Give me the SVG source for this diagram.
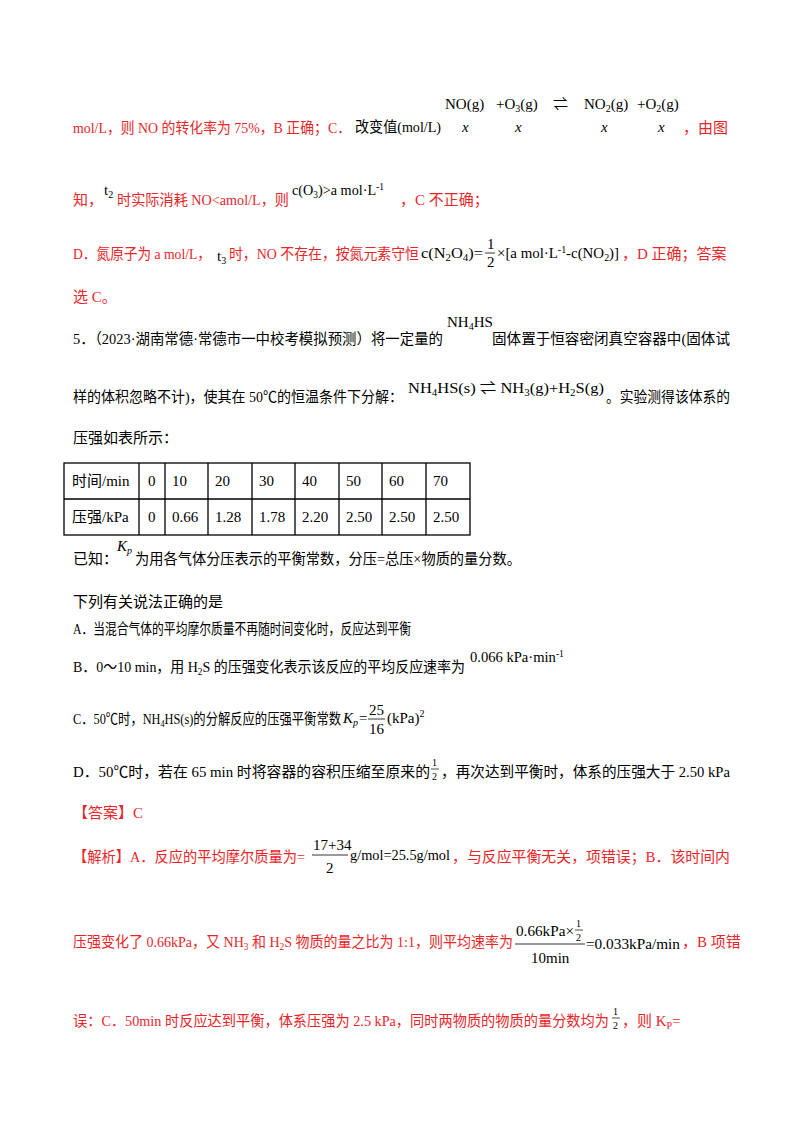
<svg xmlns="http://www.w3.org/2000/svg" width="800" height="1132" viewBox="0 0 800 1132">
<style>
text{font-family:"Liberation Serif","Noto Sans CJK SC",serif;font-size:15px;fill:#000}
.r{fill:#e8262a}
.s{font-size:15px}
.sub{font-size:10px}
.i{font-style:italic}
line,rect{stroke:#000;stroke-width:1.3;fill:none}
</style>
<rect width="800" height="1132" fill="#fff" style="stroke:none"/>
<!-- line 1 -->
<text x="445" y="109" class="s">NO(g)</text>
<text x="496" y="109" class="s">+O<tspan class="sub" dy="3">3</tspan><tspan dy="-3">(g)</tspan></text>
<text x="553" y="109" class="s">⇌</text>
<text x="584" y="109" class="s">NO<tspan class="sub" dy="3">2</tspan><tspan dy="-3">(g)</tspan></text>
<text x="637" y="109" class="s">+O<tspan class="sub" dy="3">2</tspan><tspan dy="-3">(g)</tspan></text>
<text x="73" y="133" class="r" textLength="278" lengthAdjust="spacingAndGlyphs">mol/L，则 NO 的转化率为 75%，B 正确；C．</text>
<text x="355" y="132" class="s" textLength="86" lengthAdjust="spacingAndGlyphs">改变值(mol/L)</text>
<text x="462" y="132" class="s i">x</text>
<text x="515" y="132" class="s i">x</text>
<text x="601" y="132" class="s i">x</text>
<text x="658" y="132" class="s i">x</text>
<text x="683" y="133" class="r">，由图</text>
<!-- line 2 -->
<text x="73" y="205" class="r">知，</text>
<text x="104" y="195" class="s">t<tspan class="sub" dy="3">2</tspan></text>
<text x="117" y="205" class="r" textLength="172" lengthAdjust="spacingAndGlyphs">时实际消耗 NO&lt;amol/L，则</text>
<text x="292" y="195" class="s" textLength="92" lengthAdjust="spacingAndGlyphs">c(O<tspan class="sub" dy="3">3</tspan><tspan dy="-3">)&gt;a mol·L</tspan><tspan class="sub" dy="-5">-1</tspan></text>
<text x="400" y="205" class="r">，C 不正确；</text>
<!-- line 3 -->
<text x="73" y="259" class="r" textLength="138" lengthAdjust="spacingAndGlyphs">D．氮原子为 a mol/L，</text>
<text x="217" y="261" class="s">t<tspan class="sub" dy="3">3</tspan></text>
<text x="229" y="259" class="r" textLength="190" lengthAdjust="spacingAndGlyphs">时，NO 不存在，按氮元素守恒</text>
<text x="421" y="258" class="s" textLength="62" lengthAdjust="spacingAndGlyphs">c(N<tspan class="sub" dy="3">2</tspan><tspan dy="-3">O</tspan><tspan class="sub" dy="3">4</tspan><tspan dy="-3">)=</tspan></text>
<text x="487" y="249" class="s">1</text>
<line x1="485" y1="253" x2="495" y2="253" style="stroke-width:0.8"/>
<text x="487" y="267" class="s">2</text>
<text x="497" y="258" class="s" textLength="122" lengthAdjust="spacingAndGlyphs">×[a mol·L<tspan class="sub" dy="-5">-1</tspan><tspan dy="5">-c(NO</tspan><tspan class="sub" dy="3">2</tspan><tspan dy="-3">)]</tspan></text>
<text x="622" y="259" class="r">，D 正确；答案</text>
<text x="73" y="302" class="r">选 C。</text>
<!-- question -->
<text x="73" y="344" textLength="370" lengthAdjust="spacingAndGlyphs">5．（2023·湖南常德·常德市一中校考模拟预测）将一定量的</text>
<text x="447" y="327" class="s">NH<tspan class="sub" dy="3">4</tspan><tspan dy="-3">HS</tspan></text>
<text x="492" y="344" textLength="238" lengthAdjust="spacingAndGlyphs">固体置于恒容密闭真空容器中(固体试</text>
<text x="73" y="402" textLength="330" lengthAdjust="spacingAndGlyphs">样的体积忽略不计)，使其在 50℃的恒温条件下分解：</text>
<text x="408" y="393" class="s" textLength="196" lengthAdjust="spacingAndGlyphs">NH<tspan class="sub" dy="3">4</tspan><tspan dy="-3">HS(s) ⇌ NH</tspan><tspan class="sub" dy="3">3</tspan><tspan dy="-3">(g)+H</tspan><tspan class="sub" dy="3">2</tspan><tspan dy="-3">S(g)</tspan></text>
<text x="606" y="402" textLength="124" lengthAdjust="spacingAndGlyphs">。实验测得该体系的</text>
<text x="73" y="443">压强如表所示：</text>
<!-- table -->
<g id="table">
<rect x="64" y="463" width="406" height="72"/>
<line x1="64" y1="499" x2="470" y2="499"/>
<line x1="139" y1="463" x2="139" y2="535"/>
<line x1="165" y1="463" x2="165" y2="535"/>
<line x1="208" y1="463" x2="208" y2="535"/>
<line x1="252" y1="463" x2="252" y2="535"/>
<line x1="295" y1="463" x2="295" y2="535"/>
<line x1="339" y1="463" x2="339" y2="535"/>
<line x1="382" y1="463" x2="382" y2="535"/>
<line x1="426" y1="463" x2="426" y2="535"/>
<text x="72" y="486">时间/min</text><text x="148" y="486">0</text><text x="172" y="486">10</text><text x="215" y="486">20</text><text x="259" y="486">30</text><text x="302" y="486">40</text><text x="346" y="486">50</text><text x="389" y="486">60</text><text x="433" y="486">70</text>
<text x="72" y="522">压强/kPa</text><text x="148" y="522">0</text><text x="172" y="522">0.66</text><text x="215" y="522">1.28</text><text x="259" y="522">1.78</text><text x="302" y="522">2.20</text><text x="346" y="522">2.50</text><text x="389" y="522">2.50</text><text x="433" y="522">2.50</text>
</g>
<text x="73" y="564">已知：</text>
<text x="117" y="551" class="s i">K<tspan class="sub" dy="3">p</tspan></text>
<text x="135" y="564" textLength="386" lengthAdjust="spacingAndGlyphs">为用各气体分压表示的平衡常数，分压=总压×物质的量分数。</text>
<text x="73" y="607">下列有关说法正确的是</text>
<text x="73" y="634" textLength="338" lengthAdjust="spacingAndGlyphs">A．当混合气体的平均摩尔质量不再随时间变化时，反应达到平衡</text>
<text x="73" y="672" textLength="392" lengthAdjust="spacingAndGlyphs">B．0～10 min，用 H<tspan class="sub" dy="3">2</tspan><tspan dy="-3">S 的压强变化表示该反应的平均反应速率为</tspan></text>
<text x="470" y="662" class="s" textLength="94" lengthAdjust="spacingAndGlyphs">0.066 kPa·min<tspan class="sub" dy="-5">-1</tspan></text>
<text x="73" y="724" textLength="268" lengthAdjust="spacingAndGlyphs">C．50℃时，NH<tspan class="sub" dy="3">4</tspan><tspan dy="-3">HS(s)的分解反应的压强平衡常数</tspan></text>
<text x="343" y="723" class="i">K<tspan class="sub" dy="3">p</tspan></text>
<text x="359" y="723" class="s">=</text>
<text x="369" y="715" class="s">25</text>
<line x1="368" y1="719" x2="385" y2="719" style="stroke-width:0.8"/>
<text x="369" y="734" class="s">16</text>
<text x="387" y="723" class="s">(kPa)<tspan class="sub" dy="-6">2</tspan></text>
<text x="73" y="777" textLength="357" lengthAdjust="spacingAndGlyphs">D．50℃时，若在 65 min 时将容器的容积压缩至原来的</text>
<text x="432" y="766" class="sub">1</text>
<line x1="431" y1="769" x2="439" y2="769" style="stroke-width:0.7"/>
<text x="432" y="780" class="sub">2</text>
<text x="441" y="777" textLength="289" lengthAdjust="spacingAndGlyphs">，再次达到平衡时，体系的压强大于 2.50 kPa</text>
<text x="73" y="818" class="r">【答案】C</text>
<!-- analysis -->
<text x="73" y="862" class="r" textLength="232" lengthAdjust="spacingAndGlyphs">【解析】A．反应的平均摩尔质量为=</text>
<text x="313" y="850" class="s">17+34</text>
<line x1="312" y1="855" x2="348" y2="855" style="stroke-width:0.8"/>
<text x="326" y="873" class="s">2</text>
<text x="350" y="860" class="s" textLength="100" lengthAdjust="spacingAndGlyphs">g/mol=25.5g/mol</text>
<text x="452" y="862" class="r" textLength="278" lengthAdjust="spacingAndGlyphs">，与反应平衡无关，项错误；B．该时间内</text>
<text x="73" y="947" class="r" textLength="440" lengthAdjust="spacingAndGlyphs">压强变化了 0.66kPa，又 NH<tspan class="sub" dy="3">3</tspan><tspan dy="-3"> 和 H</tspan><tspan class="sub" dy="3">2</tspan><tspan dy="-3">S 物质的量之比为 1:1，则平均速率为</tspan></text>
<text x="516" y="936" class="s" textLength="58" lengthAdjust="spacingAndGlyphs">0.66kPa×</text>
<text x="576" y="927" class="sub">1</text>
<line x1="575" y1="930" x2="583" y2="930" style="stroke-width:0.7"/>
<text x="576" y="941" class="sub">2</text>
<line x1="515" y1="944" x2="585" y2="944" style="stroke-width:0.8"/>
<text x="531" y="963" class="s">10min</text>
<text x="586" y="949" class="s" textLength="94" lengthAdjust="spacingAndGlyphs">=0.033kPa/min</text>
<text x="682" y="947" class="r">，B 项错</text>
<text x="73" y="1026" class="r" textLength="536" lengthAdjust="spacingAndGlyphs">误：C．50min 时反应达到平衡，体系压强为 2.5 kPa，同时两物质的物质的量分数均为</text>
<text x="613" y="1015" class="sub">1</text>
<line x1="612" y1="1018" x2="620" y2="1018" style="stroke-width:0.7"/>
<text x="613" y="1029" class="sub">2</text>
<text x="622" y="1026" class="r">，则 K<tspan class="sub" dy="3">P</tspan><tspan dy="-3">=</tspan></text>
</svg>
